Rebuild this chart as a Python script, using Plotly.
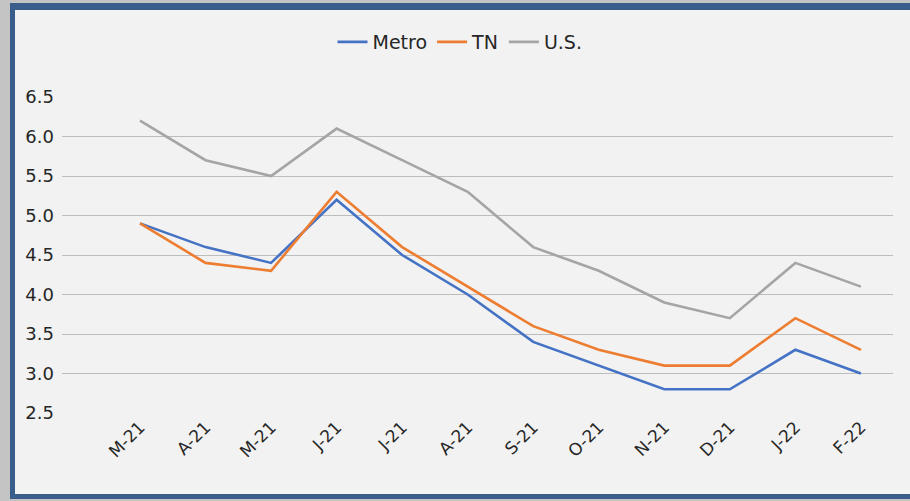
import plotly.graph_objects as go

months = ["M-21", "A-21", "M-21", "J-21", "J-21", "A-21", "S-21", "O-21", "N-21", "D-21", "J-22", "F-22"]
metro = [4.9, 4.6, 4.4, 5.2, 4.5, 4.0, 3.4, 3.1, 2.8, 2.8, 3.3, 3.0]
tn = [4.9, 4.4, 4.3, 5.3, 4.6, 4.1, 3.6, 3.3, 3.1, 3.1, 3.7, 3.3]
us = [6.2, 5.7, 5.5, 6.1, 5.7, 5.3, 4.6, 4.3, 3.9, 3.7, 4.4, 4.1]
y_ticks = [2.5, 3.0, 3.5, 4.0, 4.5, 5.0, 5.5, 6.0, 6.5]

W, H = 910, 501
L, R, T, B = 62, 17, 97, 88
PW, PH = W - L - R, H - T - B


def px(x):
    return (x - L) / PW


def py(y):
    return (H - B - y) / PH


xs = list(range(len(months)))
fig = go.Figure()
for name, vals, col in [("Metro", metro, "#4472c4"), ("TN", tn, "#ed7d31"), ("U.S.", us, "#a5a5a5")]:
    fig.add_trace(go.Scatter(x=xs, y=vals, name=name, mode="lines",
                             line=dict(color=col, width=2.6)))

shapes = [
    dict(type="rect", xref="paper", yref="paper", x0=px(10), x1=px(915), y0=py(499), y1=py(3),
         fillcolor="#3a5e8c", line=dict(width=0), layer="below"),
    dict(type="rect", xref="paper", yref="paper", x0=px(15), x1=px(915), y0=py(494), y1=py(10),
         fillcolor="#f2f2f2", line=dict(width=0), layer="below"),
]

fig.update_layout(
    width=W, height=H,
    margin=dict(l=L, r=R, t=T, b=B),
    paper_bgcolor="#c4c4c4",
    plot_bgcolor="rgba(0,0,0,0)",
    shapes=shapes,
    font=dict(family="DejaVu Sans", size=18, color="#262626"),
    showlegend=True,
    legend=dict(orientation="h", x=px(460), xanchor="center", y=py(42), yanchor="middle",
                bgcolor="rgba(0,0,0,0)", itemwidth=30, font=dict(size=19)),
    xaxis=dict(range=[-1.19, 11.49], tickmode="array", tickvals=xs, ticktext=months,
               tickangle=-45, showgrid=False, zeroline=False, showline=False, ticks="",
               tickfont=dict(size=17)),
    yaxis=dict(range=[2.5, 6.5], tickmode="array", tickvals=y_ticks,
               ticktext=[f"{v:.1f}" for v in y_ticks], showgrid=True, gridcolor="#bdbdbd",
               gridwidth=1, zeroline=False, showline=False, ticks="", ticklabelstandoff=7),
)
fig.write_html("out.html", config={"displayModeBar": False},
               post_script="document.body.style.margin='0';document.body.style.overflow='hidden';")
